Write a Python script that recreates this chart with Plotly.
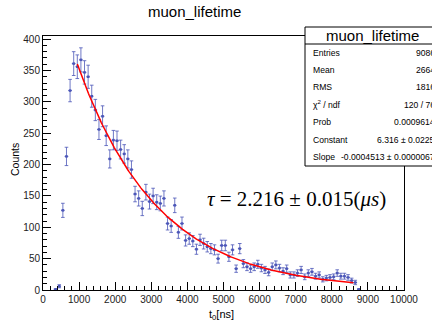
import numpy as np
import plotly.graph_objects as go

# ---- data ----
bin_centers = [350, 450, 550, 650, 750, 850, 950, 1050, 1150, 1250, 1350, 1450,
               1550, 1650, 1750, 1850, 1950, 2050, 2150, 2250, 2350, 2450,
               2550, 2650, 2750, 2850, 2950, 3050, 3150, 3250, 3350, 3450,
               3550, 3650, 3750, 3850, 3950, 4050, 4150, 4250, 4350, 4450,
               4550, 4650, 4750, 4850, 4950, 5050, 5150, 5250, 5350, 5450,
               5550, 5650, 5750, 5850, 5950, 6050, 6150, 6250, 6350, 6450,
               6550, 6650, 6750, 6850, 6950, 7050, 7150, 7250, 7350, 7450,
               7550, 7650, 7750, 7850, 7950, 8050, 8150, 8250, 8350, 8450,
               8550, 8650, 8750]
counts = [1, 6, 127, 213, 318, 361, 356, 367, 347, 340, 309, 287,
          256, 277, 246, 209, 239, 238, 224, 217, 209, 192,
          153, 146, 130, 156, 141, 150, 140, 138, 146, 106,
          102, 135, 92, 106, 79, 82, 78, 65, 80, 74,
          69, 66, 64, 50, 71, 71, 53, 64, 34, 66,
          42, 37, 34, 37, 41, 35, 32, 28, 37, 40,
          35, 30, 34, 24, 24, 27, 32, 21, 27, 29,
          22, 24, 17, 19, 20, 21, 27, 22, 22, 20,
          15, 12, 1]
bin_half_width = 50

fit_constant = 6.316
fit_slope = -0.0004513
fit_range = [950, 8600]

stat_labels = ["Entries", "Mean", "RMS", "χ<sup>2</sup> / ndf", "Prob", "Constant", "Slope"]
stat_values = ["9086", "2664", "1816", "120 / 76", "0.0009614",
               "6.316 ± 0.0225", "-0.0004513 ± 0.0000067"]

x_ticks = [0, 1000, 2000, 3000, 4000, 5000, 6000, 7000, 8000, 9000, 10000]
y_ticks = [0, 50, 100, 150, 200, 250, 300, 350, 400]

# ---- layout geometry (pixels) ----
W_FIG, H_FIG = 432, 324
L, R, T, B = 43, 28, 36, 34
PW = W_FIG - L - R
PH = H_FIG - T - B


def xp(px):
    return (px - L) / PW


def yp(py):
    return (H_FIG - B - py) / PH


err = np.sqrt(np.array(counts, dtype=float))
pt_color = "#4b56b8"
SANS = "Liberation Sans, Arial, sans-serif"

fig = go.Figure()
fig.add_trace(go.Scatter(
    x=bin_centers, y=counts, mode="markers",
    marker=dict(symbol="square", size=2.5, color=pt_color),
    error_y=dict(type="data", array=err, width=1.8, thickness=1, color="rgba(75,86,184,0.8)"),
    error_x=dict(type="data", array=[bin_half_width] * len(bin_centers), width=0,
                 thickness=1, color=pt_color),
    showlegend=False, hoverinfo="skip",
))

t_fit = np.linspace(fit_range[0], fit_range[1], 300)
fig.add_trace(go.Scatter(
    x=t_fit, y=np.exp(fit_constant + fit_slope * t_fit), mode="lines",
    line=dict(color="#ff0000", width=1.5), showlegend=False, hoverinfo="skip",
))

axis_common = dict(
    showline=True, linecolor="#000000", linewidth=1, mirror=True,
    ticks="inside", ticklen=8, tickcolor="#000000", tickwidth=1,
    showgrid=False, zeroline=False,
    tickfont=dict(family=SANS, size=10, color="#222222"),
)

fig.update_layout(
    width=W_FIG, height=H_FIG,
    margin=dict(l=L, r=R, t=T, b=B),
    paper_bgcolor="white", plot_bgcolor="white",
    xaxis=dict(range=[0, 10000], tickvals=x_ticks, ticktext=[str(v) for v in x_ticks],
               minor=dict(dtick=200, ticklen=4, ticks="inside", tickcolor="#000000"),
               **axis_common),
    yaxis=dict(range=[0, 405], tickvals=y_ticks, ticktext=[str(v) for v in y_ticks],
               minor=dict(dtick=10, ticklen=4, ticks="inside", tickcolor="#000000"),
               **axis_common),
)

ann = []
# title
ann.append(dict(text="muon_lifetime", x=xp(194), y=yp(12), xref="paper", yref="paper",
                xanchor="center", yanchor="middle", showarrow=False,
                font=dict(family=SANS, size=15, color="#000")))
# axis titles
ann.append(dict(text="Counts", x=xp(15), y=yp(160), xref="paper", yref="paper",
                xanchor="center", yanchor="middle", showarrow=False, textangle=-90,
                font=dict(family=SANS, size=10.5, color="#000")))
ann.append(dict(text="t<sub>0</sub>[ns]", x=xp(221), y=yp(315), xref="paper", yref="paper",
                xanchor="center", yanchor="middle", showarrow=False,
                font=dict(family=SANS, size=11, color="#000")))
# tau text
ann.append(dict(text="<i>τ</i> = 2.216 ± 0.015(<i>μs</i>)", x=xp(205), y=yp(199),
                xref="paper", yref="paper", xanchor="left", yanchor="middle", showarrow=False,
                font=dict(family="Liberation Serif, Times New Roman, serif", size=21, color="#000")))

# stats box
box_l, box_t, box_b, box_r = 305, 27, 166, 445
shapes = [
    dict(type="rect", xref="paper", yref="paper", x0=xp(box_l), x1=xp(box_r),
         y0=yp(box_b), y1=yp(box_t), line=dict(color="#000", width=1),
         fillcolor="white", layer="above"),
    dict(type="line", xref="paper", yref="paper", x0=xp(box_l), x1=xp(box_r),
         y0=yp(44), y1=yp(44), line=dict(color="#000", width=1), layer="above"),
]
ann.append(dict(text="muon_lifetime", x=xp(372), y=yp(35.5), xref="paper", yref="paper",
                xanchor="center", yanchor="middle", showarrow=False,
                font=dict(family=SANS, size=15, color="#000")))

row_y0, row_dy = 52.5, 17.4
for i, (lab, val) in enumerate(zip(stat_labels, stat_values)):
    py = row_y0 + i * row_dy
    f = dict(family=SANS, size=8.6, color="#000")
    ann.append(dict(text=lab, x=xp(311), y=yp(py), xref="paper", yref="paper",
                    xanchor="left", yanchor="middle", showarrow=False, font=f))
    ann.append(dict(text=val, x=xp(436), y=yp(py), xref="paper", yref="paper",
                    xanchor="right", yanchor="middle", showarrow=False, font=f,
                    borderpad=0))

fig.update_layout(annotations=ann, shapes=shapes)
fig.write_html("out.html")
